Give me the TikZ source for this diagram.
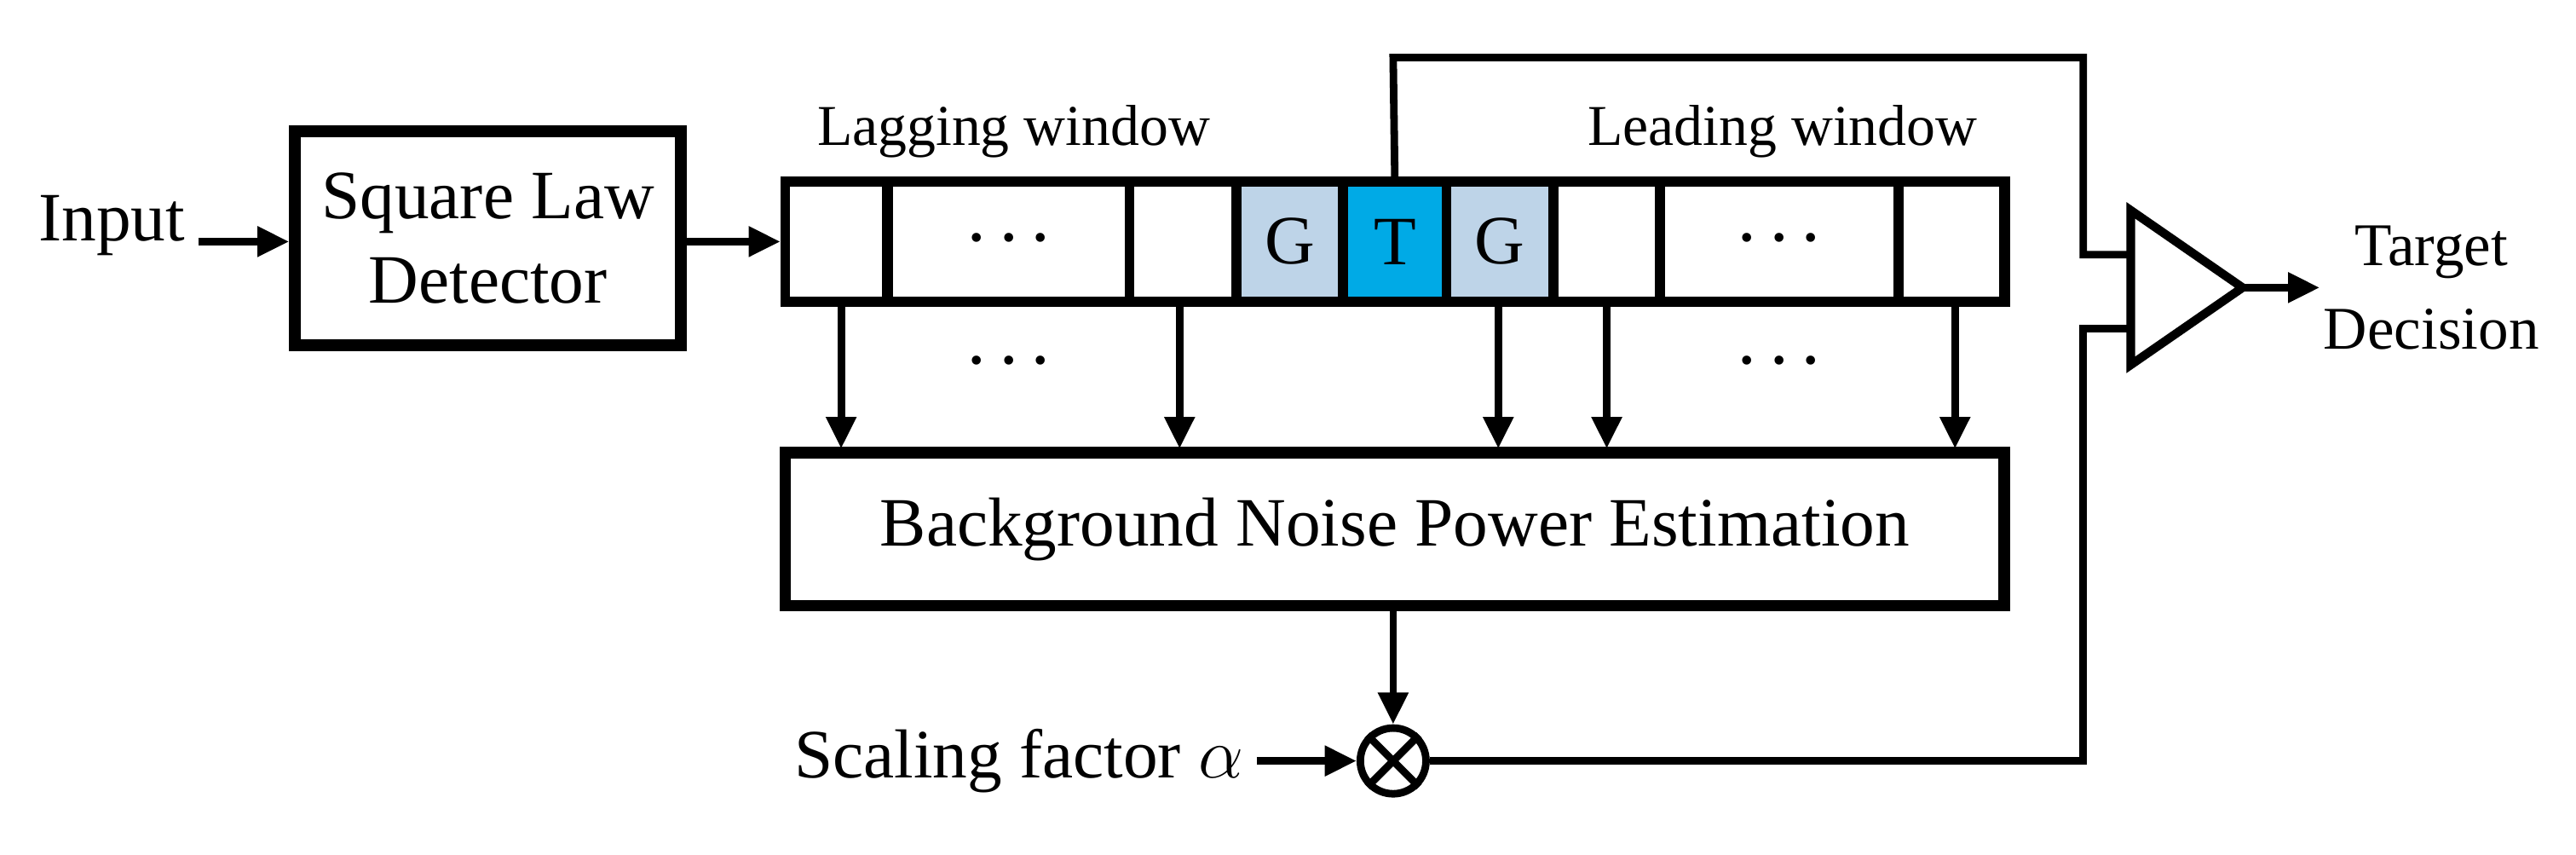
\documentclass[tikz,border=0pt]{standalone}
\usepackage{fontspec}
\setmainfont{Liberation Serif}
\usepackage{tikz}
\usetikzlibrary{arrows.meta,positioning}
\definecolor{guardblue}{RGB}{190,212,232}
\definecolor{testblue}{RGB}{0,170,230}

\begin{document}
\begin{tikzpicture}[x=0.02cm,y=-0.02cm
	,>={Triangle[length=11pt,width=10pt]}
	,line width=2.6pt]
  \tikzstyle{block}=[draw,line width=4pt,inner sep=0pt]
  \tikzstyle{cell}=[draw,line width=3.4pt,minimum height=73*0.02cm,inner sep=0pt]
  \tikzstyle{txt}=[font=\fontsize{24}{29}\selectfont]
  \tikzstyle{dots}=[font=\fontsize{13}{13}\selectfont]
  \useasboundingbox (0,0) rectangle (1568,520);

  % detector
  \node[txt] (in) at (68,137) {Input};
  \node[block,minimum width=235*0.02cm,minimum height=130*0.02cm,txt,align=center]
    (sld) at (297,145) {Square Law\\Detector};

  % cell row
  \node[cell,minimum width=742*0.02cm] (row) at (849,147) {};
  \node[cell,minimum width=62*0.02cm]  (c1) at (509,147) {};
  \node[cell,minimum width=147*0.02cm] (c2) at (614,147) {};
  \node[cell,minimum width=65*0.02cm]  (c3) at (720,147) {};
  \node[cell,minimum width=65*0.02cm,fill=guardblue,txt] (g1) at (785,147) {G};
  \node[cell,minimum width=63*0.02cm,fill=testblue,txt]  (t)  at (849,147) {T};
  \node[cell,minimum width=65*0.02cm,fill=guardblue,txt] (g2) at (913,147) {G};
  \node[cell,minimum width=65*0.02cm]  (c4) at (978,147) {};
  \node[cell,minimum width=145*0.02cm] (c5) at (1083,147) {};
  \node[cell,minimum width=65*0.02cm]  (c6) at (1188,147) {};
  \node[dots] at (614,147) {\textbullet\ \ \textbullet\ \ \textbullet};
  \node[dots] at (1083,147) {\textbullet\ \ \textbullet\ \ \textbullet};
  \node[font=\fontsize{20}{24}\selectfont] (lag) at (617,80) {Lagging window};
  \node[font=\fontsize{20}{24}\selectfont] (lead) at (1085,80) {Leading window};

  % estimator
  \node[block,minimum width=742*0.02cm,minimum height=93*0.02cm,txt]
    (bnpe) at (849,322) {Background Noise Power Estimation};
  \node[dots] at (614,222) {\textbullet\ \ \textbullet\ \ \textbullet};
  \node[dots] at (1083,222) {\textbullet\ \ \textbullet\ \ \textbullet};

  % multiplier
  \node[draw,circle,minimum size=40*0.02cm,inner sep=0pt,line width=2.6pt] (mul) at (848,463) {};
  \draw (mul.45) -- (mul.225) (mul.135) -- (mul.315);
  \node[txt,anchor=east] (alpha) at (765,463) {Scaling factor {\fontsize{30}{30}\selectfont$\alpha$}};

  % comparator
  \draw[line width=3pt] (1297,128) -- (1365,175) -- (1297,222) -- cycle;
  \coordinate (cmpT) at (1297,155);
  \coordinate (cmpB) at (1297,200);
  \coordinate (cmpO) at (1365,175);
  \node[align=center,font=\fontsize{21}{29}\selectfont] (dec) at (1480,175) {Target\\Decision};

  % connectors
  \draw[->] (in.east |- 0,147) -- (sld.west |- 0,147);
  \draw[->] (sld.east |- 0,147) -- (row.west |- 0,147);
  \foreach \x in {512,718,912,978,1190}
    \draw[->] (\x,183) -- (\x,273);
  \draw[->] (bnpe.south -| mul) -- (mul.north);
  \draw[->] (alpha.east) -- (mul.west);
  \draw (t.north) -- (848,35) -- (1268,35) |- (cmpT);
  \draw (mul.east) -- (1268,463) |- (cmpB);
  \draw[->] (cmpO) -- (1412,175);
\end{tikzpicture}
\end{document}
